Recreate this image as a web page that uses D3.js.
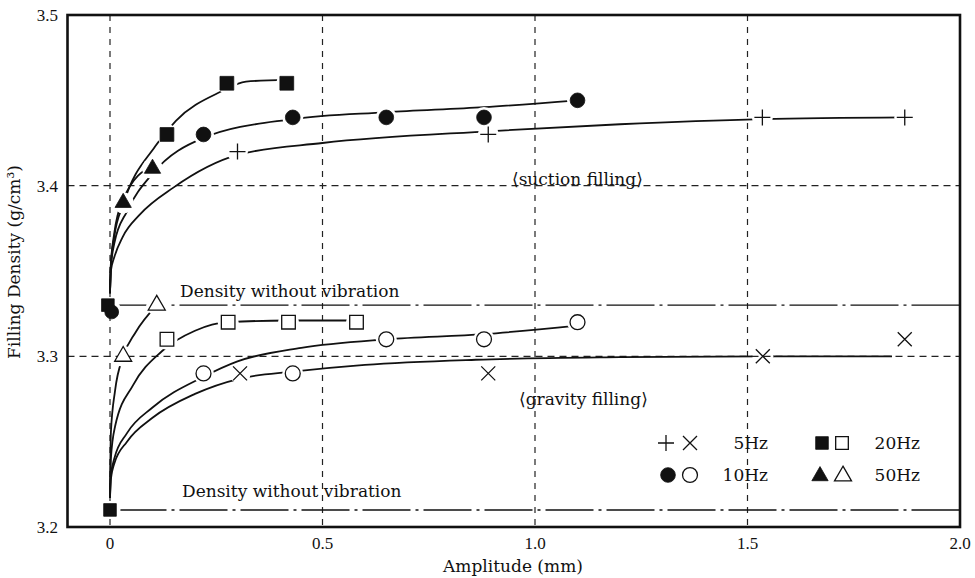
<!DOCTYPE html>
<html><head><meta charset="utf-8">
<script src="https://cdn.jsdelivr.net/npm/d3@7"></script>
<style>
body{margin:0;background:#fff}
text{font-family:"DejaVu Serif","Liberation Serif",serif;fill:#111}
text.tick{font-family:"Liberation Serif","DejaVu Serif",serif}
</style>
</head><body><svg id="c" width="975" height="578"></svg>
<script>
// ---- axes ----
const xTicks = [0, 0.5, 1.0, 1.5, 2.0];
const xTickLabels = ["0", "0.5", "1.0", "1.5", "2.0"];
const yTicks = [3.2, 3.3, 3.4, 3.5];
const yTickLabels = ["3.2", "3.3", "3.4", "3.5"];
const gridX = [0, 0.5, 1.0, 1.5];
const gridY = [3.3, 3.4];
const refLevels = [3.33, 3.21];

// ---- measured points (amplitude mm, density g/cm3) ----
const suction5  = [[0.30,3.42],[0.89,3.43],[1.535,3.44],[1.87,3.44]];
const suction10 = [[0.22,3.43],[0.43,3.44],[0.65,3.44],[0.88,3.44],[1.10,3.45]];
const suction20 = [[0.134,3.43],[0.275,3.46],[0.416,3.46]];
const suction50 = [[0.031,3.39],[0.10,3.41]];
const gravity5  = [[0.306,3.29],[0.89,3.29],[1.536,3.30],[1.87,3.31]];
const gravity10 = [[0.22,3.29],[0.43,3.29],[0.65,3.31],[0.88,3.31],[1.10,3.32]];
const gravity20 = [[0.134,3.31],[0.278,3.32],[0.42,3.32],[0.58,3.32]];
const gravity50 = [[0.031,3.30],[0.11,3.33]];
const noVibSq = [[-0.005,3.330],[0,3.21]];
const noVibCi = [[0.004,3.326]];

// ---- fitted curves ----
const curveS5  = [[0,3.337],[0.002,3.350],[0.01,3.358],[0.03,3.370],[0.07,3.383],[0.15,3.399],[0.30,3.418],[0.50,3.425],[0.90,3.432],[1.20,3.436],[1.535,3.439],[1.87,3.440]];
const curveS10 = [[0,3.337],[0.002,3.352],[0.01,3.366],[0.04,3.385],[0.10,3.407],[0.22,3.428],[0.43,3.439],[0.65,3.443],[0.88,3.446],[1.10,3.450]];
const curveS20 = [[0,3.337],[0.002,3.353],[0.01,3.370],[0.031,3.389],[0.106,3.423],[0.155,3.438],[0.26,3.455],[0.32,3.461],[0.416,3.462]];
const curveS50 = [[0,3.337],[0.002,3.354],[0.01,3.372],[0.031,3.392],[0.10,3.412]];
const curveG5  = [[0,3.217],[0.002,3.228],[0.01,3.237],[0.04,3.250],[0.10,3.264],[0.20,3.278],[0.306,3.287],[0.43,3.291],[0.60,3.295],[0.86,3.298],[1.20,3.2995],[1.536,3.300],[1.84,3.300]];
const curveG10 = [[0,3.217],[0.002,3.230],[0.01,3.240],[0.04,3.255],[0.10,3.270],[0.22,3.288],[0.30,3.297],[0.45,3.305],[0.65,3.310],[0.88,3.313],[1.10,3.318]];
const curveG20 = [[0,3.217],[0.002,3.240],[0.012,3.259],[0.054,3.283],[0.122,3.303],[0.20,3.315],[0.278,3.320],[0.42,3.321],[0.58,3.321]];
const curveG50 = [[0,3.217],[0.002,3.255],[0.012,3.280],[0.031,3.300],[0.06,3.314],[0.11,3.330]];

const svg = d3.select("#c");
const L = 67.5, R = 960, T = 15, B = 527;
const x = d3.scaleLinear().domain([-0.1, 2.0]).range([L, R]);
const y = d3.scaleLinear().domain([3.2, 3.5]).range([B, T]);

// grid
svg.append("g").selectAll("line").data(gridX).join("line")
  .attr("x1", d => x(d)).attr("x2", d => x(d)).attr("y1", T).attr("y2", B)
  .attr("stroke", "#222").attr("stroke-width", 1.2).attr("stroke-dasharray", "6,6");
svg.append("g").selectAll("line").data(gridY).join("line")
  .attr("x1", L).attr("x2", R).attr("y1", d => y(d)).attr("y2", d => y(d))
  .attr("stroke", "#222").attr("stroke-width", 1.2).attr("stroke-dasharray", "7,5");

// mask for gaps at markers
const allPts = [].concat(suction5, suction10, suction20, suction50, gravity5, gravity10, gravity20, gravity50, noVibSq, noVibCi);
const defs = svg.append("defs");
const mask = defs.append("mask").attr("id", "gap").attr("maskUnits", "userSpaceOnUse")
  .attr("x", 0).attr("y", 0).attr("width", 975).attr("height", 578);
mask.append("rect").attr("width", 975).attr("height", 578).attr("fill", "#fff");
mask.selectAll("circle").data(allPts).join("circle")
  .attr("cx", d => x(d[0])).attr("cy", d => y(d[1])).attr("r", 10.5).attr("fill", "#000");

const lines = svg.append("g").attr("mask", "url(#gap)");
// reference (no vibration) lines
lines.selectAll("line.ref").data(refLevels).join("line").attr("class", "ref")
  .attr("x1", x(0.02)).attr("x2", R).attr("y1", d => y(d)).attr("y2", d => y(d))
  .attr("stroke", "#111").attr("stroke-width", 1.4).attr("stroke-dasharray", "48,5,3,5");

const lineGen = d3.line().x(d => x(d[0])).y(d => y(d[1])).curve(d3.curveMonotoneX);
lines.selectAll("path.fit").data([curveS5, curveS10, curveS20, curveS50, curveG5, curveG10, curveG20, curveG50])
  .join("path").attr("class", "fit").attr("d", lineGen)
  .attr("fill", "none").attr("stroke", "#111").attr("stroke-width", 1.8);

// markers
function plus(g, px, py, s) {
  g.append("path").attr("d", `M${px - s},${py}H${px + s}M${px},${py - s}V${py + s}`)
    .attr("stroke", "#111").attr("stroke-width", 1.3).attr("fill", "none");
}
function cross(g, px, py, s) {
  g.append("path").attr("d", `M${px - s},${py - s}L${px + s},${py + s}M${px - s},${py + s}L${px + s},${py - s}`)
    .attr("stroke", "#111").attr("stroke-width", 1.3).attr("fill", "none");
}
function sym(g, type, size, px, py, filled) {
  g.append("path").attr("d", d3.symbol(type, size)()).attr("transform", `translate(${px},${py})`)
    .attr("fill", filled ? "#111" : "#fff").attr("stroke", "#111").attr("stroke-width", filled ? 0.8 : 1.3);
}
const mk = svg.append("g");
suction5.forEach(d => plus(mk, x(d[0]), y(d[1]), 8));
gravity5.forEach(d => cross(mk, x(d[0]), y(d[1]), 7));
suction10.forEach(d => sym(mk, d3.symbolCircle, 170, x(d[0]), y(d[1]), true));
gravity10.forEach(d => sym(mk, d3.symbolCircle, 175, x(d[0]), y(d[1]), false));
suction20.forEach(d => sym(mk, d3.symbolSquare, 190, x(d[0]), y(d[1]), true));
gravity20.forEach(d => sym(mk, d3.symbolSquare, 185, x(d[0]), y(d[1]), false));
suction50.forEach(d => sym(mk, d3.symbolTriangle, 115, x(d[0]), y(d[1]), true));
gravity50.forEach(d => sym(mk, d3.symbolTriangle, 125, x(d[0]), y(d[1]), false));
noVibSq.forEach(d => sym(mk, d3.symbolSquare, 160, x(d[0]), y(d[1]), true));
noVibCi.forEach(d => sym(mk, d3.symbolCircle, 150, x(d[0]), y(d[1]), true));

// frame
svg.append("rect").attr("x", L).attr("y", T).attr("width", R - L).attr("height", B - T)
  .attr("fill", "none").attr("stroke", "#111").attr("stroke-width", 2.6);

// tick labels
svg.append("g").selectAll("text").data(yTicks).join("text").attr("class", "tick")
  .attr("x", 58).attr("y", d => y(d) + 6).attr("text-anchor", "end").attr("font-size", 17)
  .text((d, i) => yTickLabels[i]);
svg.append("g").selectAll("text").data(xTicks).join("text").attr("class", "tick")
  .attr("x", d => x(d)).attr("y", 549).attr("text-anchor", "middle").attr("font-size", 17)
  .text((d, i) => xTickLabels[i]);

// axis titles
svg.append("text").attr("x", 513).attr("y", 572).attr("text-anchor", "middle").attr("font-size", 17)
  .text("Amplitude (mm)");
svg.append("text").attr("transform", "translate(20,262) rotate(-90)").attr("text-anchor", "middle").attr("font-size", 17)
  .text("Filling Density (g/cm³)");

// annotations
svg.append("text").attr("x", 180).attr("y", 297).attr("font-size", 17).text("Density without vibration");
svg.append("text").attr("x", 182).attr("y", 497).attr("font-size", 17).text("Density without vibration");
svg.append("text").attr("x", 512).attr("y", 185).attr("font-size", 17).text("⟨suction filling⟩");
svg.append("text").attr("x", 519).attr("y", 405).attr("font-size", 17).text("⟨gravity filling⟩");

// legend
const lg = svg.append("g");
plus(lg, 666, 443, 8); cross(lg, 690, 443, 7);
sym(lg, d3.symbolCircle, 170, 668, 475, true); sym(lg, d3.symbolCircle, 175, 690, 475, false);
sym(lg, d3.symbolSquare, 160, 822, 443, true); sym(lg, d3.symbolSquare, 160, 842, 443, false);
sym(lg, d3.symbolTriangle, 115, 820, 476, true); sym(lg, d3.symbolTriangle, 125, 843, 476, false);
lg.append("text").attr("x", 768).attr("y", 449).attr("text-anchor", "end").attr("font-size", 17).text("5Hz");
lg.append("text").attr("x", 768).attr("y", 481).attr("text-anchor", "end").attr("font-size", 17).text("10Hz");
lg.append("text").attr("x", 920).attr("y", 449).attr("text-anchor", "end").attr("font-size", 17).text("20Hz");
lg.append("text").attr("x", 920).attr("y", 481).attr("text-anchor", "end").attr("font-size", 17).text("50Hz");
</script></body></html>
